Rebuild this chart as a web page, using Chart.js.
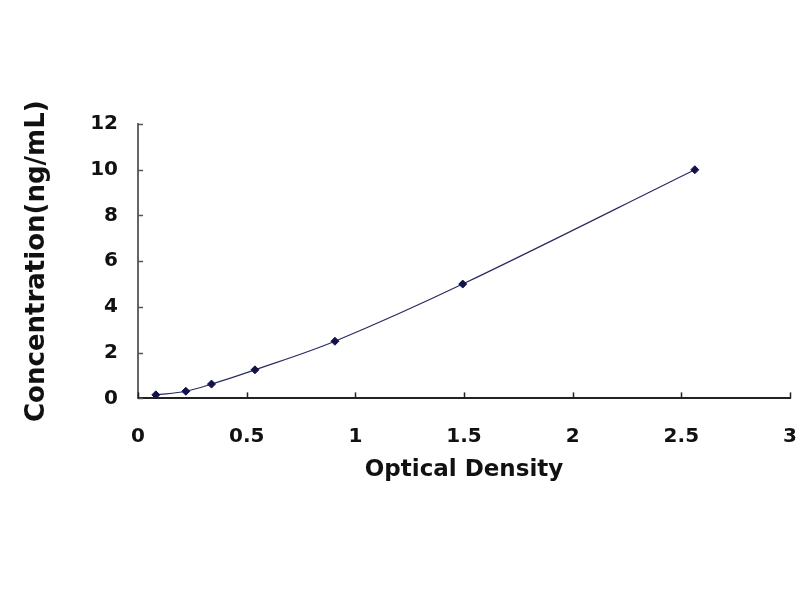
<!DOCTYPE html>
<html>
<head>
<meta charset="utf-8">
<script src="https://cdn.jsdelivr.net/npm/chart.js@4/dist/chart.umd.min.js"></script>
<style>
html,body{margin:0;padding:0;background:#fff;}
#wrap{width:800px;height:600px;}
</style>
</head>
<body>
<div id="wrap"><canvas id="c" width="800" height="600"></canvas></div>
<script>
const odValues = [0.082, 0.22, 0.338, 0.538, 0.906, 1.494, 2.562];
const concValues = [0.156, 0.312, 0.625, 1.25, 2.5, 5, 10];
const xTitle = 'Optical Density';
const yTitle = 'Concentration(ng/mL)';

const points = odValues.map((x, i) => ({x: x, y: concValues[i]}));

const innerTicks = {
  id: 'innerTicks',
  afterDatasetsDraw(chart) {
    const ctx = chart.ctx;
    const xs = chart.scales.x, ys = chart.scales.y;
    ctx.save();
    ctx.lineWidth = 1.5;
    ctx.strokeStyle = '#555';
    ys.ticks.forEach((t, i) => {
      const py = Math.round(ys.getPixelForTick(i)) + 0.5;
      ctx.beginPath();
      ctx.moveTo(xs.left, py);
      ctx.lineTo(xs.left + 5, py);
      ctx.stroke();
    });
    ctx.strokeStyle = '#222';
    xs.ticks.forEach((t, i) => {
      const px = Math.round(xs.getPixelForTick(i)) + 0.5;
      ctx.beginPath();
      ctx.moveTo(px, ys.bottom);
      ctx.lineTo(px, ys.bottom - 6);
      ctx.stroke();
    });
    ctx.restore();
  }
};

new Chart(document.getElementById('c'), {
  type: 'scatter',
  data: {
    datasets: [{
      data: points,
      showLine: true,
      tension: 0.35,
      borderColor: '#2b2b60',
      borderWidth: 1.2,
      pointStyle: 'rectRot',
      pointRadius: 4,
      pointBackgroundColor: '#12124a',
      pointBorderColor: '#12124a',
      pointBorderWidth: 1
    }]
  },
  options: {
    responsive: false,
    animation: false,
    events: [],
    layout: {padding: {top: 124, right: 10, bottom: 116, left: 22}},
    plugins: {legend: {display: false}, tooltip: {enabled: false}},
    scales: {
      x: {
        type: 'linear',
        min: 0, max: 3,
        afterFit(s) { s.paddingRight = 0; s.paddingLeft = 0; },
        ticks: {stepSize: 0.5, padding: 26, color: '#111',
          font: {family: 'DejaVu Sans', weight: 'bold', size: 20},
          callback: v => String(v)},
        grid: {display: true, drawOnChartArea: false, drawTicks: false},
        border: {display: true, color: '#222', width: 2},
        title: {display: true, text: xTitle, color: '#111',
          font: {family: 'DejaVu Sans', weight: 'bold', size: 23},
          padding: {top: -18, bottom: 0}}
      },
      y: {
        type: 'linear',
        min: 0, max: 12,
        ticks: {stepSize: 2, padding: 20, color: '#111',
          font: {family: 'DejaVu Sans', weight: 'bold', size: 20}},
        grid: {display: true, drawOnChartArea: false, drawTicks: false},
        border: {display: true, color: '#666', width: 2},
        title: {display: true, text: yTitle, color: '#111',
          font: {family: 'DejaVu Sans', weight: 'bold', size: 26},
          padding: {top: 0, bottom: 17}}
      }
    }
  },
  plugins: [innerTicks]
});
</script>
</body>
</html>
